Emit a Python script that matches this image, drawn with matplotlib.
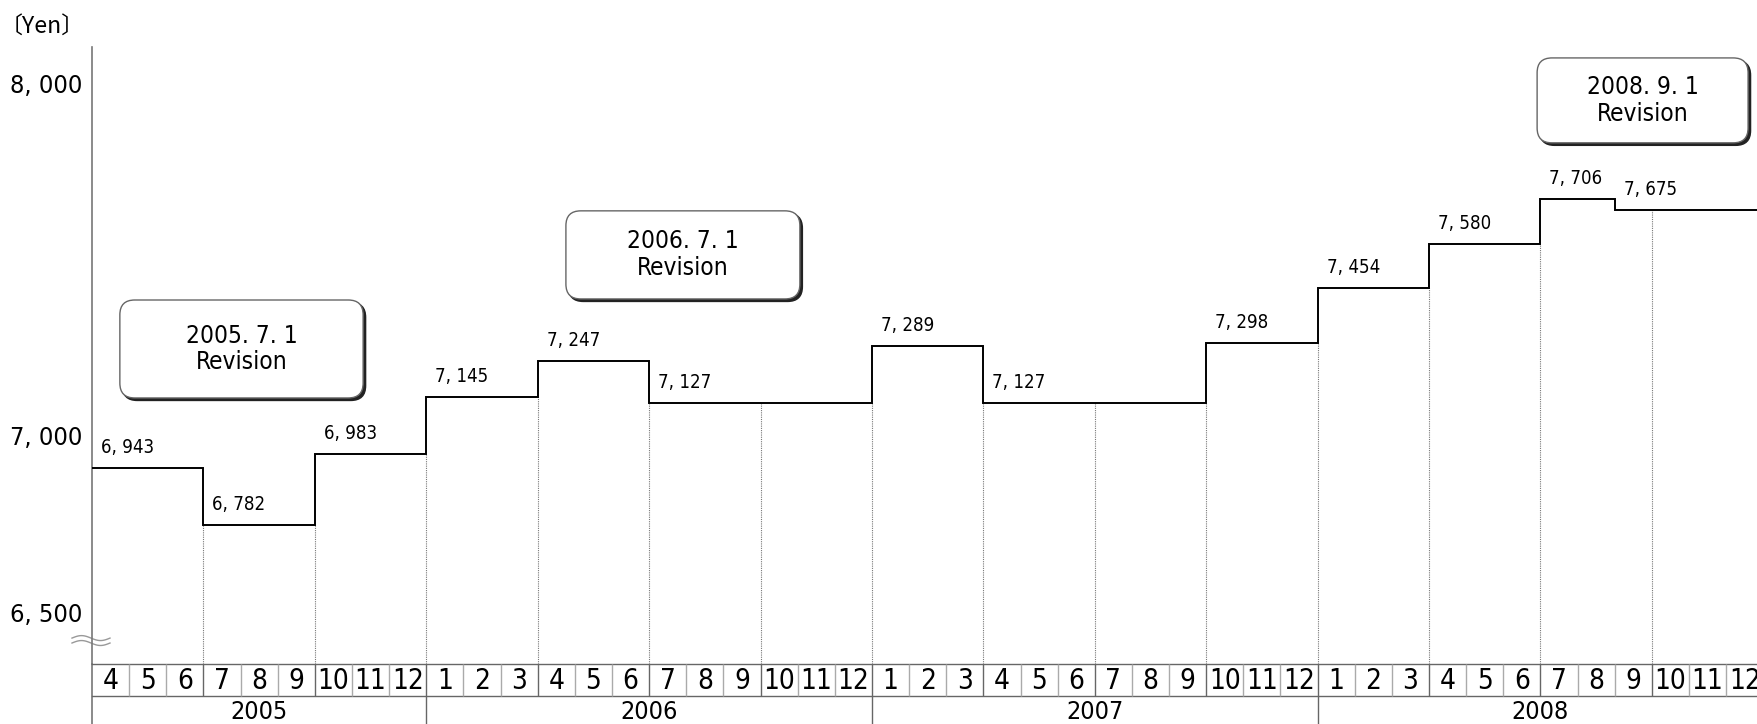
import numpy as np
import matplotlib
matplotlib.use('Agg')
import matplotlib.pyplot as plt
from matplotlib import font_manager
from matplotlib.font_manager import FontProperties
from matplotlib.textpath import TextPath
from matplotlib.patches import FancyBboxPatch
from matplotlib.transforms import ScaledTranslation, blended_transform_factory

# step edges, counted in months from 2005.4
rate_edges = [0, 3, 6, 9, 12, 15, 18, 21, 24, 27, 30, 33, 36, 39, 41, 45]
rates = [6943, 6782, 6983, 7145, 7247, 7127, 7127, 7289, 7127, 7127, 7298, 7454, 7580, 7706, 7675]
month_labels = [4, 5, 6, 7, 8, 9, 10, 11, 12] + list(range(1, 13)) * 3
years = [2005, 2006, 2007, 2008]
months_in_year = [9, 12, 12, 12]
y_ticks = [6500, 7000, 8000]
revision_dates = ['2005.7.1', '2006.7.1', '2008.9.1']
# box layout (x0, y0, width, height) in data units
revision_boxes = [(0.75, 7142, 6.55, 278), (12.76, 7423, 6.3, 250), (38.91, 7866, 5.68, 241)]


def find_font(pred):
    for f in font_manager.fontManager.ttflist:
        if pred(f) and f.style == 'normal' and f.weight in (400, 'normal', 'regular'):
            return f
    return None


pick = (find_font(lambda f: f.name == 'Noto Sans Mono CJK JP')
        or find_font(lambda f: f.name == 'Liberation Sans Narrow')
        or find_font(lambda f: 'condensed' in f.stretch and 'Sans' in f.name and 'Mono' not in f.name)
        or find_font(lambda f: f.name == 'Noto Sans CJK JP'))
fp = FontProperties(fname=pick.fname) if pick else FontProperties(family='DejaVu Sans')
mono = pick is not None and 'Mono' in pick.name
fp_cjk = FontProperties(family=['Noto Sans CJK JP', 'DejaVu Sans'])


def fmt_num(v):
    return f'{v:,}' if mono else f'{v:,}'.replace(',', ', ')


def fmt_date(s):
    return s if mono else s.replace('.', '. ')


def fit(s, w_px, h_px, prop=fp):
    # font size (pt) so the ink of s is about w_px wide and h_px tall
    ext = TextPath((0, 0), s, size=100, prop=prop).get_extents()
    fh = h_px * 72 / ext.height
    fw = w_px * 72 / ext.width
    return min(fh, fw * 1.08)


W, H = 1757, 724
fig = plt.figure(figsize=(W / 100, H / 100), dpi=100)
left, top, tab_top = 92, 47, 664
n_vis = (W - left) / 37.14
ylo, yhi = 6387, 8138

fs_tick = fit(fmt_num(8000), 64, 22)
fs_val = fit(fmt_num(6943), 53, 16)
fs_box = fit(fmt_date('2006.7.1'), 100, 22)
fs_month = fit('10', 27, 21)
fs_year = fit('2008', 50, 23)
fs_yen = fit('〔Yen〕', 62, 22, fp_cjk)

ax = fig.add_axes([left / W, (H - tab_top) / H, (W - left) / W, (tab_top - top) / H])
ax.set_xlim(0, n_vis)
ax.set_ylim(ylo, yhi)
for s in ['top', 'right', 'bottom']:
    ax.spines[s].set_visible(False)
ax.spines['left'].set_color('#777777')
ax.spines['left'].set_linewidth(1.2)
ax.set_xticks([])
ax.set_yticks(y_ticks)
ax.set_yticklabels([fmt_num(v) for v in y_ticks], fontproperties=fp, fontsize=fs_tick)
ax.tick_params(axis='y', length=0, pad=7)
shift = ScaledTranslation(0, 0.12, fig.dpi_scale_trans)
for lab in ax.get_yticklabels():
    lab.set_transform(lab.get_transform() + shift)

# step line
ax.stairs(rates, rate_edges, baseline=None, color='black', linewidth=1.4, zorder=3)

# dotted quarter lines
for e in range(3, 45, 3):
    i = np.searchsorted(rate_edges, e, side='right') - 1
    low = min(rates[i - 1], rates[i]) if rate_edges[i] == e else rates[i]
    ax.vlines(e, ylo, low, colors='#777777', linestyles=(0, (1, 1)), linewidth=0.8, zorder=2)

# value labels at start of each run
for i, v in enumerate(rates):
    if i > 0 and rates[i - 1] == v:
        continue
    ax.annotate(fmt_num(v), xy=(rate_edges[i], v), xytext=(9, 11),
                textcoords='offset pixels', fontproperties=fp, fontsize=fs_val,
                ha='left', va='bottom')

# revision boxes
px_month = (W - left) / n_vis
px_yen = (tab_top - top) / (yhi - ylo)
asp = px_month / px_yen
shadow = ScaledTranslation(0.025, -0.025, fig.dpi_scale_trans)
for (x0, y0, w, h), d in zip(revision_boxes, revision_dates):
    kw = dict(boxstyle='round,pad=0,rounding_size=0.4', mutation_aspect=asp)
    ax.add_patch(FancyBboxPatch((x0, y0), w, h, facecolor='#222222', edgecolor='#222222',
                                linewidth=1, transform=ax.transData + shadow, zorder=4, **kw))
    ax.add_patch(FancyBboxPatch((x0, y0), w, h, facecolor='white', edgecolor='#666666',
                                linewidth=1, zorder=5, **kw))
    ax.text(x0 + w / 2, y0 + h / 2, fmt_date(d) + '\nRevision', ha='center', va='center',
            fontproperties=fp, fontsize=fs_box, linespacing=1.15, zorder=6)

# break mark on the axis
t = np.linspace(0, 2 * np.pi, 40)
bx = blended_transform_factory(ax.transAxes, ax.transAxes)
for dy in (0.042, 0.034):
    ax.plot(-20 / (W - left) + t / (2 * np.pi) * 38 / (W - left),
            dy + 0.004 * np.sin(t), color='#999999', linewidth=1, transform=bx, clip_on=False)

# month / year table
tab = fig.add_axes([left / W, 0, (W - left) / W, (H - tab_top) / H])
tab.set_xlim(0, n_vis)
tab.set_ylim(-28 / 32, 1)
tab.axis('off')
tab.axvline(0, color='#777777', linewidth=1.2, clip_on=False)
tab.axhline(1, color='#666666', linewidth=1, clip_on=False)
tab.axhline(0, color='#666666', linewidth=1, clip_on=False)
for m in range(1, 46):
    tab.vlines(m, 0, 1, colors='#666666' if m % 3 == 0 else '#aaaaaa', linewidth=1, clip_on=False)
for i, lab in enumerate(month_labels):
    tab.text(i + 0.5, 0.47, str(lab), ha='center', va='center', fontproperties=fp, fontsize=fs_month)
start = 0
for yr, n in zip(years, months_in_year):
    tab.text(start + n / 2, -0.5, str(yr), ha='center', va='center', fontproperties=fp, fontsize=fs_year)
    start += n
    tab.vlines(start, -1, 0, colors='#666666', linewidth=1, clip_on=False)

fig.text(0, 1 - 26 / H, '〔Yen〕', ha='left', va='center', fontproperties=fp_cjk, fontsize=fs_yen)

fig.savefig('out.png', dpi=100, facecolor='white')
